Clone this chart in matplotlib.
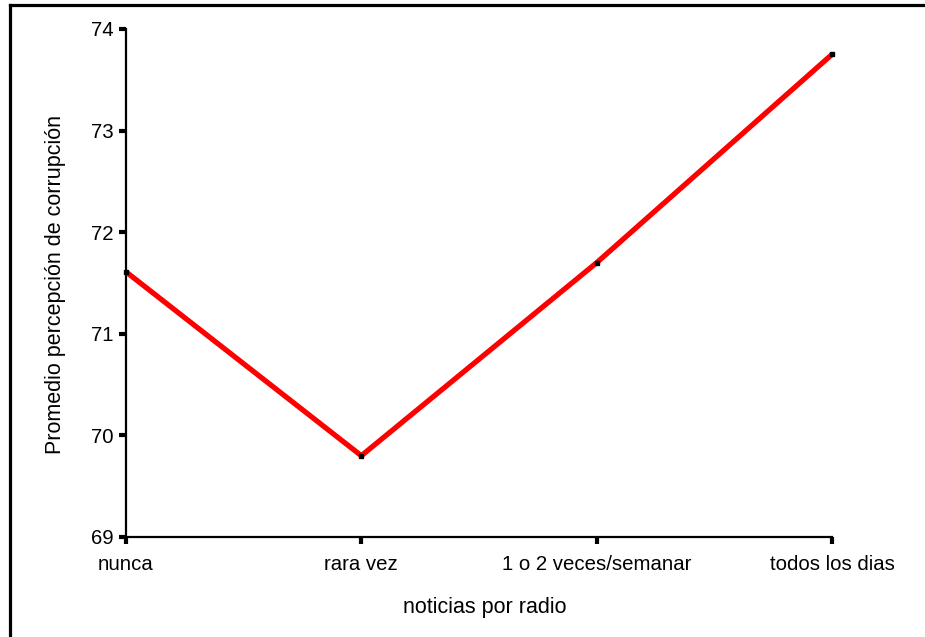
import matplotlib
matplotlib.use("Agg")
import matplotlib.pyplot as plt
from matplotlib.lines import Line2D

categories = ["nunca", "rara vez", "1 o 2 veces/semanar", "todos los dias"]
values = [71.61, 69.80, 71.70, 73.75]
yticks = [69, 70, 71, 72, 73, 74]

plt.rcParams['font.family'] = ['Liberation Sans', 'DejaVu Sans']

W, H = 925, 637
fig = plt.figure(figsize=(W / 100, H / 100), dpi=100)
ax = fig.add_axes([126 / W, 1 - 537 / H, (832 - 126) / W, (537 - 29) / H])

x = list(range(len(categories)))
ax.plot(x, values, color="#ff0000", lw=3.8, solid_capstyle="butt", zorder=3, clip_on=False)
ax.plot(x, values, ls="none", marker="s", ms=2.5, color="black", zorder=4, clip_on=False)

ax.set_xlim(0, len(categories) - 1)
ax.set_ylim(69, 74)
ax.set_xticks(x)
ax.set_xticklabels(categories, fontsize=14.7)
ax.set_yticks(yticks)
ax.set_yticklabels([str(v) for v in yticks], fontsize=14.7)
ax.tick_params(axis="both", direction="out", length=5, width=3, color="black")
ax.tick_params(axis="x", pad=8)
ax.tick_params(axis="y", pad=4)

for s in ["top", "right"]:
    ax.spines[s].set_visible(False)
for s in ["left", "bottom"]:
    ax.spines[s].set_linewidth(1.6)

ax.set_xlabel("noticias por radio", fontsize=15.5)
ax.xaxis.set_label_coords((485 - 126) / (832 - 126), -(607 - 537) / (537 - 29))
ax.set_ylabel("Promedio percepción de corrupción", fontsize=15.5)
ax.yaxis.set_label_coords(-(126 - 56) / (832 - 126), (537 - 284) / (537 - 29))
ax.xaxis.label.set_va("center")
ax.yaxis.label.set_va("center")

# outer frame (top and left only)
fig.add_artist(Line2D([9.5 / W, 1.0], [1 - 4.5 / H, 1 - 4.5 / H], color="black", lw=2.3,
                      transform=fig.transFigure))
fig.add_artist(Line2D([9.5 / W, 9.5 / W], [0, 1 - 4.5 / H], color="black", lw=2.3,
                      transform=fig.transFigure))

fig.savefig("out.png", dpi=100)
